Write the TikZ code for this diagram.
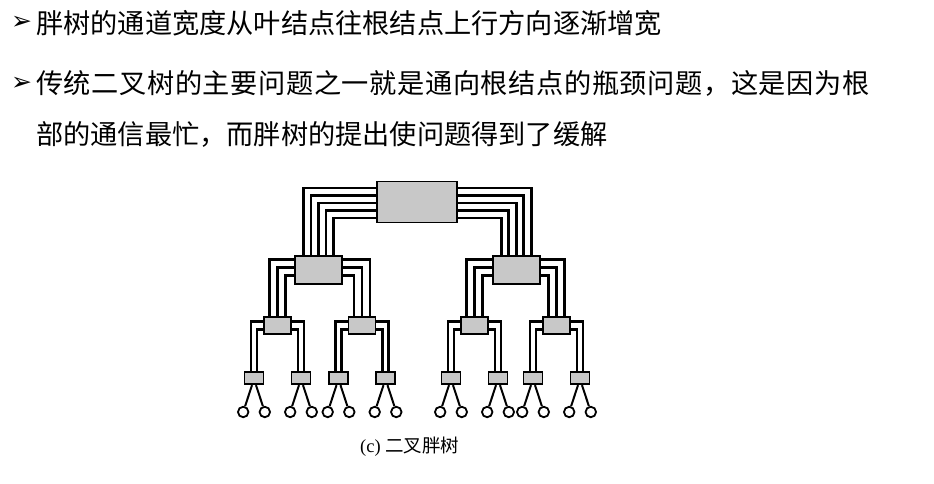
\documentclass[tikz,border=0pt]{standalone}
\usepackage{fontspec}
\setmainfont{Liberation Serif}
\newfontfamily\cjk{Noto Sans CJK SC}
\newfontfamily\dingfont{DejaVu Sans}
\usetikzlibrary{calc}
\definecolor{boxgray}{RGB}{200,200,200}

\begin{document}
\begin{tikzpicture}[x=1pt, y=-1pt,
  hub/.style={draw, line width=1.8pt, fill=boxgray, inner sep=0pt},
  wire/.style={line width=2.7pt},
  leg/.style={line width=2pt},
  pe/.style={draw, circle, line width=1.8pt, fill=white, inner sep=0pt, minimum size=10.5pt},
  bullet/.style={anchor=west, inner sep=0pt, font=\dingfont\fontsize{25}{25}\selectfont},
  line/.style={anchor=west, inner sep=0pt, font=\cjk\fontsize{27.2}{30}\selectfont}]
  \useasboundingbox (0,0) rectangle (934,483);

  % text
  \node (bul1) [bullet] at (11,23.3) {➢};
  \node (txt1) [line] at (36,23.3) {胖树的通道宽度从叶结点往根结点上行方向逐渐增宽};
  \node (bul2) [bullet] at (11,84) {➢};
  \node (txt2) [line] at (36,83.5) {\addfontfeatures{LetterSpace=2.2}传统二叉树的主要问题之一就是通向根结点的瓶颈问题，这是因为根};
  \node (txt3) [line] at (36,134) {部的通信最忙，而胖树的提出使问题得到了缓解};

  % switches
  \node (root) [hub, minimum width=80pt, minimum height=41pt] at (417,202) {};
  \node (a1) [hub, minimum width=47pt, minimum height=28pt] at (318.5,270) {};
  \node (a2) [hub, minimum width=47pt, minimum height=28pt] at (516.3,270) {};
  \foreach \n/\x in {b1/277.5,b2/362,b3/474.5,b4/556.5}
    \node (\n) [hub, minimum width=27pt, minimum height=17pt] at (\x,325.5) {};
  \foreach \i/\x in {1/254,2/301,3/338.5,4/385.5,5/451,6/498,7/533,8/580}
    \node (c\i) [hub, minimum width=19pt, minimum height=12.5pt] at (\x,378) {};

  % processors
  \foreach \i in {1,...,8} {
    \node (pl\i) [pe] at ($(c\i)+(-10.8,34)$) {};
    \node (pr\i) [pe] at ($(c\i)+(10.8,34)$) {};
    \draw[leg] ($(c\i.south)+(-2,0)$) -- (pl\i);
    \draw[leg] ($(c\i.south)+(2,0)$) -- (pr\i);
  }

  % channels, wider towards the root
  \foreach \d/\e in {-15/15,-7.5/7.5,0/0,7.5/-7.5,15/-15} {
    \draw[wire] ($(root.west)+(0,\d+1)$) -| ($(a1.north)+(\d,0)$);
    \draw[wire] ($(root.east)+(0,\d+1)$) -| ($(a2.north)+(\e,0)$);
  }
  \foreach \p/\l/\r in {a1/b1/b2,a2/b3/b4}
    \foreach \dy/\dx in {-10.5/-8,-2.5/0,5.5/8} {
      \draw[wire] ($(\p.west)+(0,\dy)$) -| ($(\l.north)+(\dx,0)$);
      \draw[wire] ($(\p.east)+(0,\dy)$) -| ($(\r.north)+(-\dx,0)$);
    }
  \foreach \p/\l/\r in {b1/c1/c2,b2/c3/c4,b3/c5/c6,b4/c7/c8}
    \foreach \dy/\dx in {-3.8/-3,3.8/3} {
      \draw[wire] ($(\p.west)+(0,\dy)$) -| ($(\l.north)+(\dx,0)$);
      \draw[wire] ($(\p.east)+(0,\dy)$) -| ($(\r.north)+(-\dx,0)$);
    }

  \node (cap) [anchor=west, inner sep=0pt] at (360,446.5) {\fontsize{18.5}{20}\selectfont (c) {\cjk 二叉胖树}};
\end{tikzpicture}
\end{document}
